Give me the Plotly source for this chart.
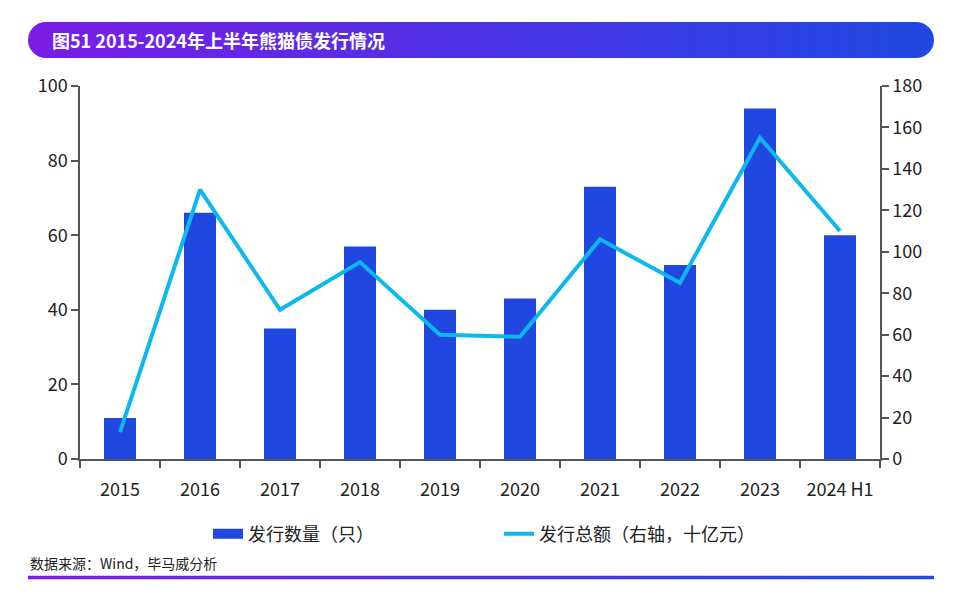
import plotly.graph_objects as go
import base64

years = ["2015", "2016", "2017", "2018", "2019", "2020", "2021", "2022", "2023", "2024 H1"]
issue_count = [11, 66, 35, 57, 40, 43, 73, 52, 94, 60]
issue_amount = [13, 130, 72, 95, 60, 59, 106, 85, 155, 110]

FONT = "Noto Sans CJK SC"
BAR_COLOR = "#2047e0"
LINE_COLOR = "#0cb8ef"

W, H = 960, 598
L, R, T, B = 80, 80, 86, 139
PW, PH = W - L - R, H - T - B

def px_x(x):
    return (x - L) / PW

def px_y(y):
    return (H - B - y) / PH

def svg_uri(svg):
    return "data:image/svg+xml;base64," + base64.b64encode(svg.encode()).decode()

BX0, BX1 = 28, 934
BW = BX1 - BX0
title_svg = (
    f'<svg xmlns="http://www.w3.org/2000/svg" width="{BW}" height="36" viewBox="0 0 {BW} 36" preserveAspectRatio="none">'
    '<defs><linearGradient id="g" x1="0" y1="0" x2="1" y2="0">'
    '<stop offset="0" stop-color="#7a1de6"/><stop offset="1" stop-color="#2049e2"/></linearGradient></defs>'
    f'<rect x="0" y="0" width="{BW}" height="36" rx="18" ry="18" fill="url(#g)"/></svg>'
)
line_svg = (
    f'<svg xmlns="http://www.w3.org/2000/svg" width="{BW}" height="4" viewBox="0 0 {BW} 4" preserveAspectRatio="none">'
    '<defs><linearGradient id="g" x1="0" y1="0" x2="1" y2="0">'
    '<stop offset="0" stop-color="#7a1de6"/><stop offset="1" stop-color="#2049e2"/></linearGradient></defs>'
    f'<rect x="0" y="0" width="{BW}" height="4" fill="url(#g)"/></svg>'
)

fig = go.Figure()
fig.add_trace(go.Bar(
    x=years, y=issue_count, name="发行数量（只）",
    marker=dict(color=BAR_COLOR, line=dict(width=0)),
    width=0.4, yaxis="y", showlegend=False,
))
# legend entry for the bars, drawn as a wide swatch
fig.add_trace(go.Scatter(
    x=[None], y=[None], name="发行数量（只）", mode="lines",
    line=dict(color=BAR_COLOR, width=14), yaxis="y", legendrank=1,
))
fig.add_trace(go.Scatter(
    x=years, y=issue_amount, name="发行总额（右轴，十亿元）",
    mode="lines", line=dict(color=LINE_COLOR, width=4),
    yaxis="y2", legendrank=2,
))

axis_common = dict(
    showgrid=False, zeroline=False, showline=True, linecolor="#555555", linewidth=1.5,
    ticks="outside", ticklen=7, tickcolor="#555555", tickwidth=1.5,
    tickfont=dict(family=FONT, size=18, color="#222222"),
)

fig.update_layout(
    width=W, height=H,
    margin=dict(l=L, r=R, t=T, b=B),
    paper_bgcolor="white", plot_bgcolor="white",
    font=dict(family=FONT),
    xaxis=dict(**axis_common, type="category", tickson="boundaries", ticklabelstandoff=14),
    yaxis=dict(**axis_common, range=[0, 100], dtick=20, side="left"),
    yaxis2=dict(**axis_common, range=[0, 180], dtick=20, side="right", overlaying="y"),
    legend=dict(
        orientation="h", x=px_x(208), xanchor="left", y=px_y(534), yanchor="middle",
        font=dict(family=FONT, size=18, color="#222222"),
        entrywidth=246, itemwidth=30, traceorder="normal",
    ),
    showlegend=True,
    images=[
        dict(source=svg_uri(title_svg), xref="paper", yref="paper",
             x=px_x(BX0), y=px_y(22), sizex=BW / PW, sizey=36 / PH,
             xanchor="left", yanchor="top", sizing="stretch", layer="below"),
        dict(source=svg_uri(line_svg), xref="paper", yref="paper",
             x=px_x(BX0), y=px_y(575.5), sizex=BW / PW, sizey=4 / PH,
             xanchor="left", yanchor="top", sizing="stretch", layer="below"),
    ],
    annotations=[
        dict(text="<b>图51 2015-2024年上半年熊猫债发行情况</b>", xref="paper", yref="paper",
             x=px_x(50), y=px_y(40), xanchor="left", yanchor="middle", showarrow=False,
             font=dict(family=FONT, size=18, color="white")),
        dict(text="数据来源：Wind，毕马威分析", xref="paper", yref="paper",
             x=px_x(28), y=px_y(563), xanchor="left", yanchor="middle", showarrow=False,
             font=dict(family=FONT, size=14, color="#222222")),
    ],
)

fig.write_html("out.html")
